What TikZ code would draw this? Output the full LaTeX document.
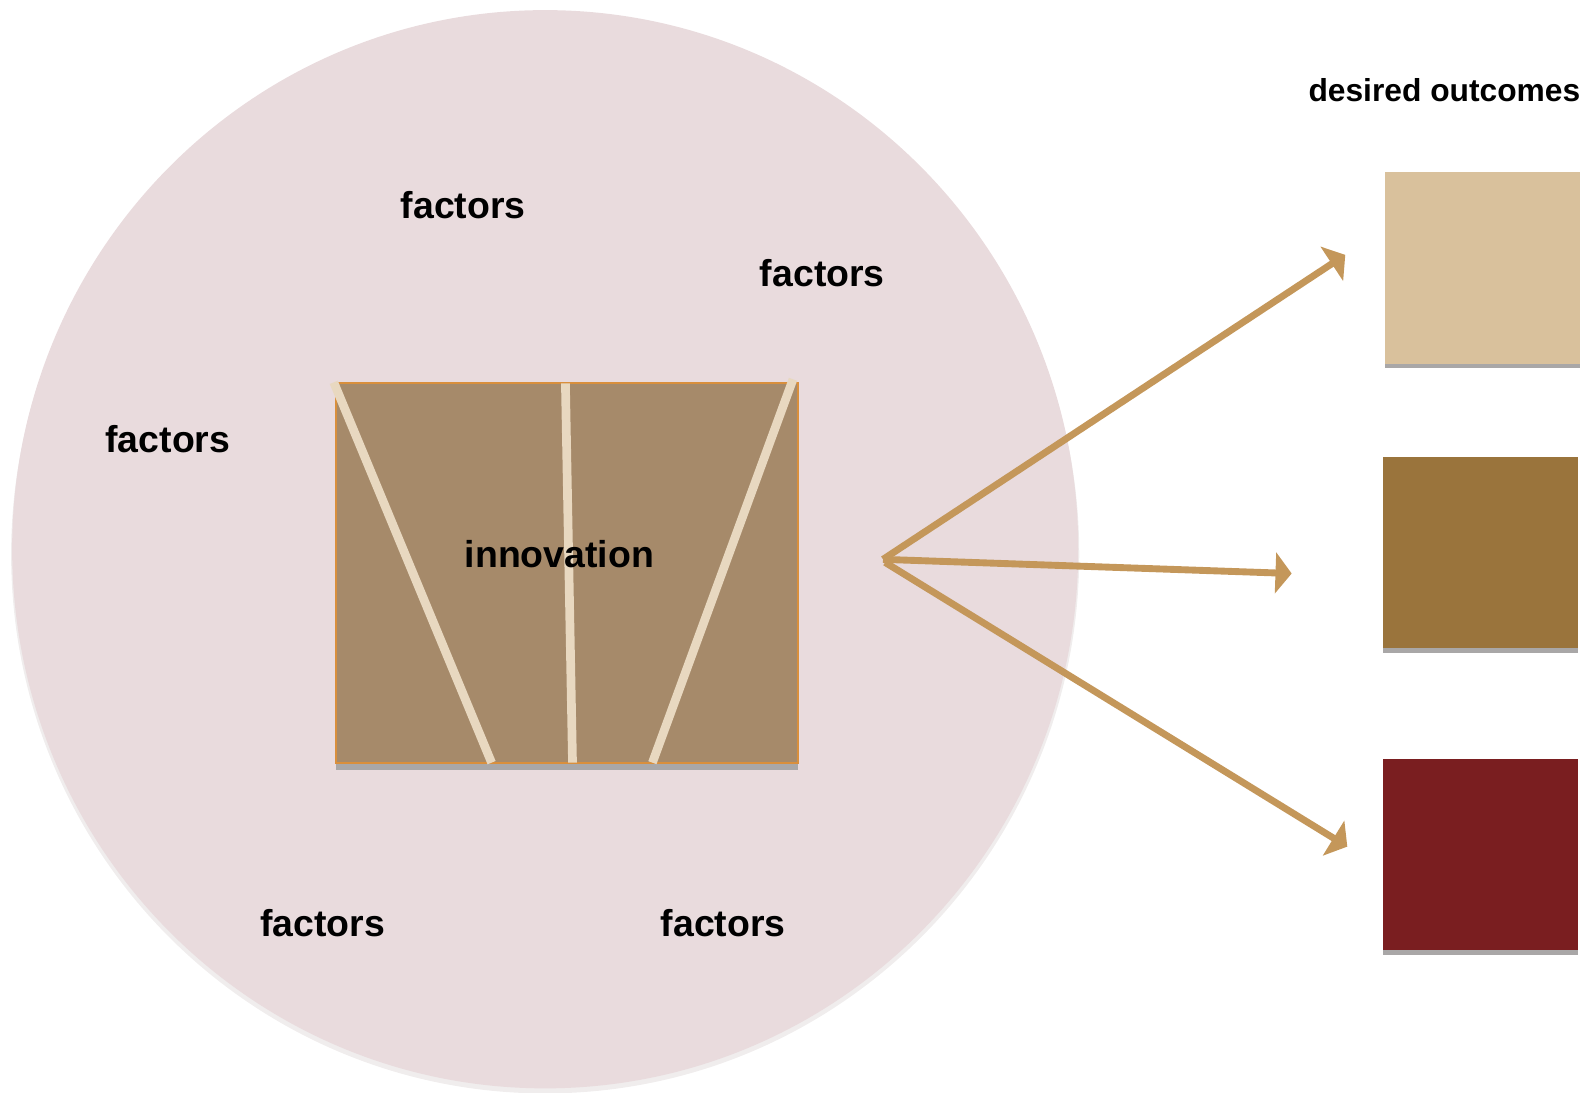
\documentclass[tikz,border=0pt]{standalone}
\usepackage{fontspec}
\setmainfont{Liberation Sans}
\usetikzlibrary{arrows.meta}
\definecolor{circfill}{HTML}{E9DBDD}
\definecolor{circshadow}{HTML}{F0EDED}
\definecolor{boxfill}{HTML}{A68A6A}
\definecolor{boxedge}{HTML}{D98F3C}
\definecolor{stripe}{HTML}{E8D8C0}
\definecolor{arrowc}{HTML}{C4975A}
\definecolor{sqA}{HTML}{D9C19C}
\definecolor{sqB}{HTML}{9A743C}
\definecolor{sqC}{HTML}{7A1E20}
\definecolor{shadowgrey}{HTML}{A9A7A7}
\begin{document}
\begin{tikzpicture}[x=0.5pt,y=-0.5pt,
  lbl/.style={inner sep=0pt,font=\bfseries\fontsize{18.5pt}{22pt}\selectfont},
  headlbl/.style={inner sep=0pt,font=\bfseries\fontsize{15.7pt}{19pt}\selectfont},
  stripeline/.style={draw=stripe,line width=4.3pt},
  arr/.style={draw=arrowc,line width=3.4pt,-{Triangle[length=8pt,width=20pt]}},
  outsq/.style={inner sep=0pt,minimum width=96.5pt,minimum height=94.5pt,anchor=north west}]
\useasboundingbox (0,0) rectangle (1568,1080);
% circle with shadow
\fill[circshadow] (539,548) ellipse [x radius=528, y radius=533];
\fill[circfill] (539,543) ellipse [x radius=527, y radius=533];
% innovation box
\fill[shadowgrey] (332,385) rectangle (789,761);
\filldraw[fill=boxfill,draw=boxedge,line width=1pt] (332,379) rectangle (789,754);
\draw[stripeline] (330,378) -- (486,754);
\draw[stripeline] (559,379) -- (566,754);
\draw[stripeline] (784,375) -- (645,754);
\node[lbl] (innov) at (553,548) {innovation};
% factors
\node[lbl] (f1) at (458,203) {factors};
\node[lbl] (f2) at (813,270) {factors};
\node[lbl] (f3) at (166,434) {factors};
\node[lbl] (f4) at (319,913) {factors};
\node[lbl] (f5) at (715,913) {factors};
% outcomes
\node[headlbl] (head) at (1428,89) {desired outcomes};
\fill[shadowgrey] (1369,176) rectangle (1562,364);
\node[outsq,fill=sqA] (o1) at (1369,170) {};
\fill[shadowgrey] (1367,457) rectangle (1560,646);
\node[outsq,fill=sqB] (o2) at (1367,451) {};
\fill[shadowgrey] (1367,756) rectangle (1560,944);
\node[outsq,fill=sqC] (o3) at (1367,750) {};
% arrows
\coordinate (s1) at (873,553);
\coordinate (s2) at (875,556);
\coordinate (t1) at (1330,252);
\coordinate (t2) at (1277,567);
\coordinate (t3) at (1332,837);
\draw[arr] (s1) -- (t1);
\draw[arr] (s1) -- (t2);
\draw[arr] (s2) -- (t3);
\end{tikzpicture}
\end{document}
